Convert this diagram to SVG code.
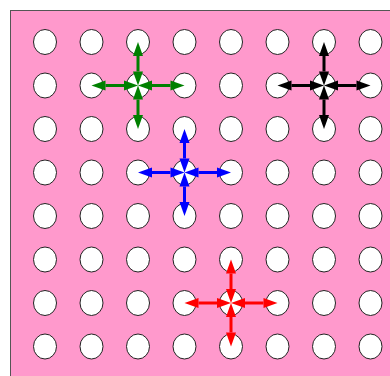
<svg xmlns="http://www.w3.org/2000/svg" width="390" height="376" viewBox="0 0 390 376">
  <style>
    .dot { fill: #ffffff; stroke: #222222; stroke-width: 1; }
    .arrow { stroke-width: 3; fill: none; }
  </style>
  <defs>
    <marker id="head-green" viewBox="0 -6 15 12" refX="0" refY="0" markerWidth="15" markerHeight="12" markerUnits="userSpaceOnUse" orient="auto-start-reverse" overflow="visible">
      <path d="M0,-5 L14,0 L0,5 z" fill="#008000"/>
    </marker>
    <marker id="head-blue" viewBox="0 -6 15 12" refX="0" refY="0" markerWidth="15" markerHeight="12" markerUnits="userSpaceOnUse" orient="auto-start-reverse" overflow="visible">
      <path d="M0,-5 L14,0 L0,5 z" fill="#0000ff"/>
    </marker>
    <marker id="head-red" viewBox="0 -6 15 12" refX="0" refY="0" markerWidth="15" markerHeight="12" markerUnits="userSpaceOnUse" orient="auto-start-reverse" overflow="visible">
      <path d="M0,-5 L14,0 L0,5 z" fill="#ff0000"/>
    </marker>
    <marker id="head-black" viewBox="0 -6 15 12" refX="0" refY="0" markerWidth="15" markerHeight="12" markerUnits="userSpaceOnUse" orient="auto-start-reverse" overflow="visible">
      <path d="M0,-5 L14,0 L0,5 z" fill="#000000"/>
    </marker>
  </defs>

  <!-- board -->
  <rect x="10.5" y="10.5" width="400" height="400" fill="#ff99cc" stroke="#555555" stroke-width="1"/>

  <!-- 8 x 8 grid of holes -->
  <g id="grid">
    <g id="row1">
      <ellipse class="dot" cx="45" cy="42" rx="11.5" ry="12.5"/>
      <ellipse class="dot" cx="91.5" cy="42" rx="11.5" ry="12.5"/>
      <ellipse class="dot" cx="138" cy="42" rx="11.5" ry="12.5"/>
      <ellipse class="dot" cx="184.5" cy="42" rx="11.5" ry="12.5"/>
      <ellipse class="dot" cx="231" cy="42" rx="11.5" ry="12.5"/>
      <ellipse class="dot" cx="277.5" cy="42" rx="11.5" ry="12.5"/>
      <ellipse class="dot" cx="324" cy="42" rx="11.5" ry="12.5"/>
      <ellipse class="dot" cx="370.5" cy="42" rx="11.5" ry="12.5"/>
    </g>
    <g id="row2">
      <ellipse class="dot" cx="45" cy="85.5" rx="11.5" ry="12.5"/>
      <ellipse class="dot" cx="91.5" cy="85.5" rx="11.5" ry="12.5"/>
      <ellipse class="dot" cx="138" cy="85.5" rx="11.5" ry="12.5"/>
      <ellipse class="dot" cx="184.5" cy="85.5" rx="11.5" ry="12.5"/>
      <ellipse class="dot" cx="231" cy="85.5" rx="11.5" ry="12.5"/>
      <ellipse class="dot" cx="277.5" cy="85.5" rx="11.5" ry="12.5"/>
      <ellipse class="dot" cx="324" cy="85.5" rx="11.5" ry="12.5"/>
      <ellipse class="dot" cx="370.5" cy="85.5" rx="11.5" ry="12.5"/>
    </g>
    <g id="row3">
      <ellipse class="dot" cx="45" cy="129" rx="11.5" ry="12.5"/>
      <ellipse class="dot" cx="91.5" cy="129" rx="11.5" ry="12.5"/>
      <ellipse class="dot" cx="138" cy="129" rx="11.5" ry="12.5"/>
      <ellipse class="dot" cx="184.5" cy="129" rx="11.5" ry="12.5"/>
      <ellipse class="dot" cx="231" cy="129" rx="11.5" ry="12.5"/>
      <ellipse class="dot" cx="277.5" cy="129" rx="11.5" ry="12.5"/>
      <ellipse class="dot" cx="324" cy="129" rx="11.5" ry="12.5"/>
      <ellipse class="dot" cx="370.5" cy="129" rx="11.5" ry="12.5"/>
    </g>
    <g id="row4">
      <ellipse class="dot" cx="45" cy="172.5" rx="11.5" ry="12.5"/>
      <ellipse class="dot" cx="91.5" cy="172.5" rx="11.5" ry="12.5"/>
      <ellipse class="dot" cx="138" cy="172.5" rx="11.5" ry="12.5"/>
      <ellipse class="dot" cx="184.5" cy="172.5" rx="11.5" ry="12.5"/>
      <ellipse class="dot" cx="231" cy="172.5" rx="11.5" ry="12.5"/>
      <ellipse class="dot" cx="277.5" cy="172.5" rx="11.5" ry="12.5"/>
      <ellipse class="dot" cx="324" cy="172.5" rx="11.5" ry="12.5"/>
      <ellipse class="dot" cx="370.5" cy="172.5" rx="11.5" ry="12.5"/>
    </g>
    <g id="row5">
      <ellipse class="dot" cx="45" cy="216" rx="11.5" ry="12.5"/>
      <ellipse class="dot" cx="91.5" cy="216" rx="11.5" ry="12.5"/>
      <ellipse class="dot" cx="138" cy="216" rx="11.5" ry="12.5"/>
      <ellipse class="dot" cx="184.5" cy="216" rx="11.5" ry="12.5"/>
      <ellipse class="dot" cx="231" cy="216" rx="11.5" ry="12.5"/>
      <ellipse class="dot" cx="277.5" cy="216" rx="11.5" ry="12.5"/>
      <ellipse class="dot" cx="324" cy="216" rx="11.5" ry="12.5"/>
      <ellipse class="dot" cx="370.5" cy="216" rx="11.5" ry="12.5"/>
    </g>
    <g id="row6">
      <ellipse class="dot" cx="45" cy="259.5" rx="11.5" ry="12.5"/>
      <ellipse class="dot" cx="91.5" cy="259.5" rx="11.5" ry="12.5"/>
      <ellipse class="dot" cx="138" cy="259.5" rx="11.5" ry="12.5"/>
      <ellipse class="dot" cx="184.5" cy="259.5" rx="11.5" ry="12.5"/>
      <ellipse class="dot" cx="231" cy="259.5" rx="11.5" ry="12.5"/>
      <ellipse class="dot" cx="277.5" cy="259.5" rx="11.5" ry="12.5"/>
      <ellipse class="dot" cx="324" cy="259.5" rx="11.5" ry="12.5"/>
      <ellipse class="dot" cx="370.5" cy="259.5" rx="11.5" ry="12.5"/>
    </g>
    <g id="row7">
      <ellipse class="dot" cx="45" cy="303" rx="11.5" ry="12.5"/>
      <ellipse class="dot" cx="91.5" cy="303" rx="11.5" ry="12.5"/>
      <ellipse class="dot" cx="138" cy="303" rx="11.5" ry="12.5"/>
      <ellipse class="dot" cx="184.5" cy="303" rx="11.5" ry="12.5"/>
      <ellipse class="dot" cx="231" cy="303" rx="11.5" ry="12.5"/>
      <ellipse class="dot" cx="277.5" cy="303" rx="11.5" ry="12.5"/>
      <ellipse class="dot" cx="324" cy="303" rx="11.5" ry="12.5"/>
      <ellipse class="dot" cx="370.5" cy="303" rx="11.5" ry="12.5"/>
    </g>
    <g id="row8">
      <ellipse class="dot" cx="45" cy="346.5" rx="11.5" ry="12.5"/>
      <ellipse class="dot" cx="91.5" cy="346.5" rx="11.5" ry="12.5"/>
      <ellipse class="dot" cx="138" cy="346.5" rx="11.5" ry="12.5"/>
      <ellipse class="dot" cx="184.5" cy="346.5" rx="11.5" ry="12.5"/>
      <ellipse class="dot" cx="231" cy="346.5" rx="11.5" ry="12.5"/>
      <ellipse class="dot" cx="277.5" cy="346.5" rx="11.5" ry="12.5"/>
      <ellipse class="dot" cx="324" cy="346.5" rx="11.5" ry="12.5"/>
      <ellipse class="dot" cx="370.5" cy="346.5" rx="11.5" ry="12.5"/>
    </g>
  </g>

  <!-- neighbour links: double-headed arrows from a hole to its four neighbours -->
  <g id="connectors">
    <g id="links-green" stroke="#008000" class="arrow">
      <line x1="152" y1="85.5" x2="170.5" y2="85.5" marker-start="url(#head-green)" marker-end="url(#head-green)"/>
      <line x1="124" y1="85.5" x2="105.5" y2="85.5" marker-start="url(#head-green)" marker-end="url(#head-green)"/>
      <line x1="138" y1="71.5" x2="138" y2="56" marker-start="url(#head-green)" marker-end="url(#head-green)"/>
      <line x1="138" y1="99.5" x2="138" y2="115" marker-start="url(#head-green)" marker-end="url(#head-green)"/>
    </g>
    <g id="links-black" stroke="#000000" class="arrow">
      <line x1="338" y1="85.5" x2="356.5" y2="85.5" marker-start="url(#head-black)" marker-end="url(#head-black)"/>
      <line x1="310" y1="85.5" x2="291.5" y2="85.5" marker-start="url(#head-black)" marker-end="url(#head-black)"/>
      <line x1="324" y1="71.5" x2="324" y2="56" marker-start="url(#head-black)" marker-end="url(#head-black)"/>
      <line x1="324" y1="99.5" x2="324" y2="115" marker-start="url(#head-black)" marker-end="url(#head-black)"/>
    </g>
    <g id="links-blue" stroke="#0000ff" class="arrow">
      <line x1="198.5" y1="172.5" x2="217" y2="172.5" marker-start="url(#head-blue)" marker-end="url(#head-blue)"/>
      <line x1="170.5" y1="172.5" x2="152" y2="172.5" marker-start="url(#head-blue)" marker-end="url(#head-blue)"/>
      <line x1="184.5" y1="158.5" x2="184.5" y2="143" marker-start="url(#head-blue)" marker-end="url(#head-blue)"/>
      <line x1="184.5" y1="186.5" x2="184.5" y2="202" marker-start="url(#head-blue)" marker-end="url(#head-blue)"/>
    </g>
    <g id="links-red" stroke="#ff0000" class="arrow">
      <line x1="245" y1="303" x2="263.5" y2="303" marker-start="url(#head-red)" marker-end="url(#head-red)"/>
      <line x1="217" y1="303" x2="198.5" y2="303" marker-start="url(#head-red)" marker-end="url(#head-red)"/>
      <line x1="231" y1="289" x2="231" y2="273.5" marker-start="url(#head-red)" marker-end="url(#head-red)"/>
      <line x1="231" y1="317" x2="231" y2="332.5" marker-start="url(#head-red)" marker-end="url(#head-red)"/>
    </g>
  </g>
</svg>
